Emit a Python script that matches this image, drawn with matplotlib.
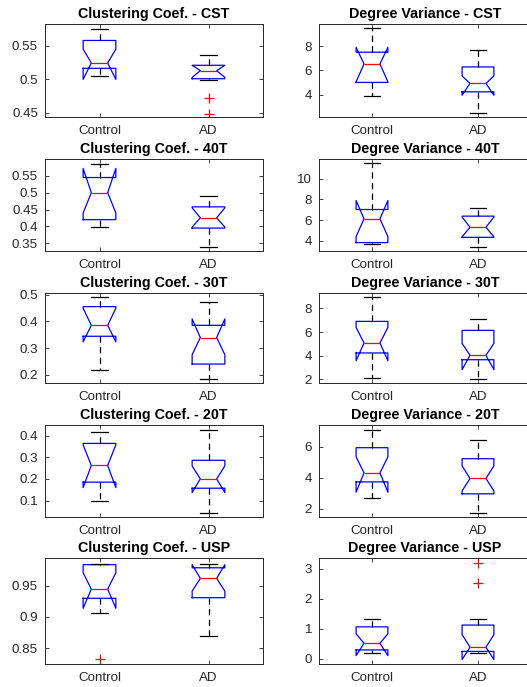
import matplotlib
matplotlib.use("Agg")
import matplotlib.pyplot as plt
from matplotlib.ticker import FormatStrFormatter

plt.rcParams['font.family'] = ['Liberation Sans', 'DejaVu Sans']

groups = ["Control", "AD"]
conditions = ["CST", "40T", "30T", "20T", "USP"]

# Clustering coefficient, one [Control, AD] pair per condition
cc_whislo = [[0.505, 0.4985], [0.397, 0.340], [0.216, 0.183], [0.100, 0.043], [0.906, 0.869]]
cc_q1 = [[0.5165, 0.501], [0.420, 0.395], [0.344, 0.240], [0.185, 0.157], [0.930, 0.931]]
cc_cilo = [[0.500, 0.503], [0.440, 0.398], [0.323, 0.275], [0.160, 0.137], [0.914, 0.9415]]
cc_med = [[0.5245, 0.513], [0.500, 0.4255], [0.385, 0.339], [0.262, 0.200], [0.9447, 0.962]]
cc_cihi = [[0.545, 0.521], [0.572, 0.455], [0.449, 0.409], [0.357, 0.260], [0.971, 0.984]]
cc_q3 = [[0.558, 0.521], [0.545, 0.458], [0.455, 0.385], [0.364, 0.286], [0.984, 0.979]]
cc_whishi = [[0.575, 0.536], [0.5866, 0.490], [0.490, 0.4725], [0.4155, 0.428], [0.985, 0.985]]
cc_fliers = [[[], [0.472, 0.449]], [[], []], [[], []], [[], []], [[0.8325], []]]

# Degree variance, one [Control, AD] pair per condition
dv_whislo = [[3.86, 2.47], [3.74, 3.45], [2.14, 2.00], [2.71, 1.74], [0.20, 0.20]]
dv_q1 = [[5.00, 4.22], [3.84, 4.35], [4.23, 3.66], [3.74, 2.97], [0.29, 0.24]]
dv_cilo = [[5.05, 3.94], [4.42, 4.40], [3.58, 2.82], [3.08, 3.16], [0.10, -0.03]]
dv_med = [[6.53, 4.92], [6.13, 5.32], [5.07, 4.03], [4.32, 3.96], [0.51, 0.38]]
dv_cihi = [[7.89, 5.53], [7.90, 6.30], [6.39, 5.04], [5.35, 4.77], [0.83, 0.80]]
dv_q3 = [[7.50, 6.28], [7.03, 6.39], [6.90, 6.14], [5.94, 5.23], [1.06, 1.12]]
dv_whishi = [[9.47, 7.70], [11.48, 7.16], [8.96, 7.10], [7.08, 6.43], [1.31, 1.31]]
dv_fliers = [[[], []], [[], []], [[], []], [[], []], [[], [3.19, 2.52]]]

cc_ylims = [(0.444, 0.5825), (0.327, 0.600), (0.169, 0.506), (0.024, 0.449), (0.8245, 0.9947)]
dv_ylims = [(2.14, 9.83), (3.03, 11.9), (1.69, 9.3), (1.48, 7.4), (-0.18, 3.36)]
cc_ticks = [[0.45, 0.5, 0.55], [0.35, 0.4, 0.45, 0.5, 0.55], [0.2, 0.3, 0.4, 0.5],
            [0.1, 0.2, 0.3, 0.4], [0.85, 0.9, 0.95]]
dv_ticks = [[4, 6, 8], [4, 6, 8, 10], [2, 4, 6, 8], [2, 4, 6], [0, 1, 2, 3]]

W, H = 527, 687
fig = plt.figure(figsize=(W / 100, H / 100), dpi=100)

rows_px = [(24, 117), (159, 251), (293, 383), (425, 517), (558, 664)]
cols_px = [(45, 263), (319, 531)]

axcol = '#262626'


def make_stats(whislo, q1, cilo, med, cihi, q3, whishi, fliers):
    out = []
    for j in range(2):
        out.append(dict(whislo=whislo[j], q1=q1[j], cilo=cilo[j], med=med[j],
                        cihi=cihi[j], q3=q3[j], whishi=whishi[j],
                        fliers=fliers[j], label=groups[j]))
    return out


for i, cond in enumerate(conditions):
    top, bot = rows_px[i]
    for c in range(2):
        x0, x1 = cols_px[c]
        ax = fig.add_axes([x0 / W, 1 - bot / H, (x1 - x0) / W, (bot - top) / H])
        if c == 0:
            stats = make_stats(cc_whislo[i], cc_q1[i], cc_cilo[i], cc_med[i],
                               cc_cihi[i], cc_q3[i], cc_whishi[i], cc_fliers[i])
            title = "Clustering Coef. - " + cond
            ylim, ticks = cc_ylims[i], cc_ticks[i]
        else:
            stats = make_stats(dv_whislo[i], dv_q1[i], dv_cilo[i], dv_med[i],
                               dv_cihi[i], dv_q3[i], dv_whishi[i], dv_fliers[i])
            title = "Degree Variance - " + cond
            ylim, ticks = dv_ylims[i], dv_ticks[i]

        ax.bxp(stats, positions=[1, 2], widths=0.3, shownotches=True,
               boxprops=dict(color='blue', linewidth=0.9),
               medianprops=dict(color='red', linewidth=0.9),
               whiskerprops=dict(color='black', linewidth=0.9, linestyle=(0, (5, 3.5))),
               capprops=dict(color='black', linewidth=0.9),
               flierprops=dict(marker='+', markeredgecolor='red', markersize=7,
                               markeredgewidth=0.9, linestyle='none'))

        ax.set_xlim(0.5, 2.5)
        ax.set_ylim(*ylim)
        ax.set_yticks(ticks)
        ax.yaxis.set_major_formatter(FormatStrFormatter('%g'))
        ax.set_xticks([1, 2])
        ax.set_xticklabels(groups)
        ax.set_title(title, fontsize=10.3, fontweight='bold', pad=4)
        ax.tick_params(direction='in', length=3, width=0.6, labelsize=9.6,
                       colors=axcol, top=True, right=True)
        ax.tick_params(axis='x', pad=6)
        ax.tick_params(axis='y', pad=5)
        for sp in ax.spines.values():
            sp.set_color(axcol)
            sp.set_linewidth(0.7)

fig.savefig("out.png", dpi=100)
